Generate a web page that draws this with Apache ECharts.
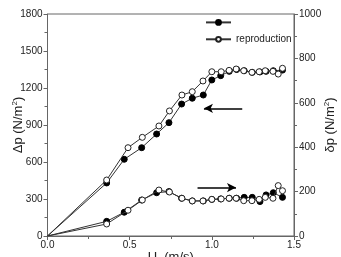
<!DOCTYPE html>
<html><head><meta charset="utf-8">
<script src="https://cdn.jsdelivr.net/npm/echarts@6/dist/echarts.min.js"></script>
<style>html,body{margin:0;padding:0;background:#fff}#c{width:341px;height:257px}</style>
</head><body><div id="c"></div>
<script>
// Filled (original) series
const xFilled = [0, 0.36, 0.467, 0.573, 0.664, 0.739, 0.816, 0.881, 0.948, 1.0, 1.054, 1.106, 1.151, 1.197, 1.246, 1.293, 1.33, 1.374, 1.43];
const dpFilled = [0, 430, 622, 716, 827, 919, 1070, 1117, 1143, 1265, 1300, 1335, 1350, 1340, 1327, 1330, 1335, 1340, 1345];
const dspFilled = [0, 66, 107, 162, 195, 200, 170, 158, 158, 165, 167, 170, 170, 174, 174, 155, 185, 195, 174];
// Open (reproduction) series
const xOpen = [0, 0.36, 0.49, 0.577, 0.678, 0.742, 0.818, 0.881, 0.946, 1.0, 1.057, 1.105, 1.148, 1.194, 1.244, 1.288, 1.325, 1.372, 1.404, 1.43];
const dpOpen = [0, 454, 716, 800, 892, 1014, 1143, 1170, 1257, 1332, 1332, 1343, 1354, 1340, 1327, 1332, 1340, 1335, 1313, 1360];
const dspOpen = [0, 54, 116, 162, 207, 198, 170, 158, 158, 165, 167, 170, 170, 159, 159, 165, 174, 170, 227, 204];
// Arrow annotations [x0, x1, y]
const arrowLeft = [1.185, 0.952, 1035];
const arrowRight = [0.913, 1.147, 218];
const xTicks = [0, 1.5, 0.5];
const yLeftTicks = [0, 1800, 300];
const yRightTicks = [0, 1000, 200];

function pts(xs, ys) {
  return xs.map((x, i) => i === 0 ? {value: [x, ys[i]], symbol: 'none'} : [x, ys[i]]);
}
const F = 'Liberation Sans, Arial, sans-serif';
const axisCol = '#666';
const lineCol = '#333';
const filledStyle = {type: 'line', name: 'original', symbol: 'circle', symbolSize: 6,
  itemStyle: {color: '#000', borderColor: '#000', borderWidth: 1},
  lineStyle: {color: lineCol, width: 1}, z: 3};
const openStyle = {type: 'line', name: 'reproduction', symbol: 'circle', symbolSize: 6,
  itemStyle: {color: '#fff', borderColor: '#222', borderWidth: 1},
  lineStyle: {color: lineCol, width: 1}, z: 4};
const arrowML = (a) => ({silent: true, symbol: ['none', 'arrow'], symbolSize: [7, 9],
  label: {show: false}, lineStyle: {color: '#000', width: 1.5, type: 'solid'},
  data: [[{coord: [a[0], a[2]]}, {coord: [a[1], a[2]]}]]});
const nts = {fontSize: 13, color: '#222', fontFamily: F,
  rich: {s: {fontSize: 8, fontFamily: F, color: '#222', padding: [0, 0, 7, 0]}}};

const chart = echarts.init(document.getElementById('c'), null, {renderer: 'canvas'});
chart.setOption({
  animation: false,
  textStyle: {fontFamily: F},
  grid: {left: 47.5, right: 47, top: 14, bottom: 21, containLabel: false, outerBoundsMode: 'none',
    show: true, borderColor: axisCol, borderWidth: 1},
  legend: {orient: 'vertical', left: 200, top: 14, itemWidth: 25, itemHeight: 6, itemGap: 8.5,
    data: ['original', 'reproduction'],
    formatter: n => n === 'reproduction' ? n : '',
    textStyle: {fontSize: 10, color: '#222', fontFamily: F}},
  xAxis: {type: 'value', min: xTicks[0], max: xTicks[1], interval: xTicks[2],
    name: 'U  (m/s)', nameLocation: 'middle', nameGap: 15, nameMoveOverlap: false,
    nameTextStyle: {fontSize: 13, color: '#222', fontFamily: F},
    axisLine: {lineStyle: {color: axisCol}}, axisTick: {length: 4, lineStyle: {color: axisCol}},
    minorTick: {show: true, splitNumber: 2, length: 3, lineStyle: {color: axisCol}},
    splitLine: {show: false},
    axisLabel: {fontSize: 10, color: '#222', margin: 4, formatter: v => v.toFixed(1)}},
  yAxis: [{type: 'value', min: yLeftTicks[0], max: yLeftTicks[1], interval: yLeftTicks[2],
    name: 'Δp (N/m{s|2})', nameLocation: 'middle', nameGap: 22, nameRotate: 90, nameMoveOverlap: false,
    nameTextStyle: nts,
    axisLine: {show: true, lineStyle: {color: axisCol}}, axisTick: {show: true, length: 4, lineStyle: {color: axisCol}},
    minorTick: {show: true, splitNumber: 2, length: 3, lineStyle: {color: axisCol}},
    splitLine: {show: false},
    axisLabel: {fontSize: 10, color: '#222', margin: 5, formatter: v => String(v)}},
   {type: 'value', position: 'right', min: yRightTicks[0], max: yRightTicks[1], interval: yRightTicks[2],
    name: 'δp (N/m{s|2})', nameLocation: 'middle', nameGap: 29, nameRotate: 90, nameMoveOverlap: false,
    nameTextStyle: nts,
    axisLine: {show: true, lineStyle: {color: axisCol}}, axisTick: {show: true, length: 4, lineStyle: {color: axisCol}},
    minorTick: {show: true, splitNumber: 2, length: 3, lineStyle: {color: axisCol}},
    splitLine: {show: false},
    axisLabel: {fontSize: 10, color: '#222', margin: 5, formatter: v => String(v)}}],
  series: [
    Object.assign({}, filledStyle, {yAxisIndex: 0, data: pts(xFilled, dpFilled), markLine: arrowML(arrowLeft)}),
    Object.assign({}, openStyle, {yAxisIndex: 0, data: pts(xOpen, dpOpen)}),
    Object.assign({}, filledStyle, {yAxisIndex: 1, data: pts(xFilled, dspFilled), markLine: arrowML(arrowRight)}),
    Object.assign({}, openStyle, {yAxisIndex: 1, data: pts(xOpen, dspOpen)})
  ]
});
</script></body></html>
